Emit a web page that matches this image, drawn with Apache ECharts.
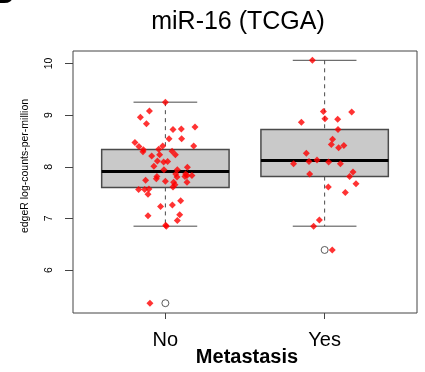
<!DOCTYPE html>
<html>
<head>
<meta charset="utf-8">
<script src="https://cdn.jsdelivr.net/npm/echarts@6/dist/echarts.min.js"></script>
<style>
  html, body { margin: 0; padding: 0; background: #fff; }
  #chart { width: 425px; height: 372px; }
</style>
</head>
<body>
<div id="chart"></div>
<script>
var groups = ['No', 'Yes'];
var yTicks = [6, 7, 8, 9, 10];
// [lower whisker, Q1, median, Q3, upper whisker]
var boxNo = [6.85, 7.60, 7.91, 8.335, 9.25];
var boxYes = [6.85, 7.81, 8.12, 8.72, 10.06];
var outlierNo = [5.36];
var outlierYes = [6.39];

// jittered points (stripchart on top of the boxes)
var noValues = [9.25, 9.08, 8.96, 8.83, 8.72, 8.73, 8.77, 8.54, 8.54, 8.47, 8.39, 8.33, 8.29, 8.40,
  8.34, 8.30, 8.23, 8.40, 8.21, 8.23, 8.11, 8.09, 8.10, 8.01, 7.94, 7.94, 7.99, 7.81, 7.77, 7.86,
  7.80, 7.86, 7.83, 7.83, 7.81, 7.74, 7.72, 7.70, 7.65, 7.61, 7.70, 7.56, 7.56, 7.57, 7.47, 7.23,
  7.26, 7.34, 7.05, 7.07, 6.96, 6.87, 6.85, 5.36];
var noJitter = [0, -0.10, -0.157, -0.119, 0.048, 0.100, 0.186, 0.023, 0.102, -0.191, -0.166, -0.138,
  -0.141, -0.017, -0.042, 0.042, 0.063, 0.178, -0.086, -0.036, -0.050, -0.011, 0.014, -0.072, -0.009,
  0.075, 0.138, -0.053, -0.057, 0.065, 0.073, 0.127, 0.136, 0.167, 0.123, -0.124, 0, 0.052, 0.060,
  0.048, 0.136, -0.168, -0.130, -0.103, -0.109, -0.030, 0.044, 0.096, -0.109, 0.090, 0.075, 0.002,
  0.006, -0.097];
var yesValues = [10.06, 9.07, 9.06, 8.93, 8.92, 8.86, 8.72, 8.53, 8.43, 8.37, 8.41, 8.26, 8.13, 8.10,
  8.06, 8.09, 8.06, 7.90, 7.81, 7.86, 7.67, 7.61, 7.50, 6.97, 6.85, 6.39];
var yesJitter = [-0.077, -0.008, 0.170, 0.002, 0.082, -0.146, 0.084, 0.050, 0.042, 0.088, 0.121,
  -0.115, -0.048, -0.098, -0.195, 0.025, 0.099, 0.178, 0.157, -0.094, 0.197, 0.023, 0.130, -0.033,
  -0.069, 0.048];

var font = 'Liberation Sans, Arial, Helvetica, sans-serif';
var boxColor = '#4a4a4a';

function points(values, jitter, pos) {
  return values.map(function (v, i) { return [pos + jitter[i], v]; });
}

function renderBox(params, api) {
  var x = api.value(0);
  var lo = api.value(1), q1 = api.value(2), med = api.value(3), q3 = api.value(4), hi = api.value(5);
  var tl = api.coord([x - 0.4, q3]);
  var br = api.coord([x + 0.4, q1]);
  var cLo = api.coord([x, lo]), cHi = api.coord([x, hi]);
  var cQ1 = api.coord([x, q1]), cQ3 = api.coord([x, q3]);
  var capL = api.coord([x - 0.2, lo])[0], capR = api.coord([x + 0.2, lo])[0];
  var mL = api.coord([x - 0.4, med]), mR = api.coord([x + 0.4, med]);
  var dash = { stroke: boxColor, lineWidth: 1, lineDash: [4, 4] };
  var solid = { stroke: boxColor, lineWidth: 1 };
  return {
    type: 'group',
    children: [
      { type: 'line', shape: { x1: cHi[0], y1: cHi[1], x2: cQ3[0], y2: cQ3[1] }, style: dash },
      { type: 'line', shape: { x1: cQ1[0], y1: cQ1[1], x2: cLo[0], y2: cLo[1] }, style: dash },
      { type: 'line', shape: { x1: capL, y1: cHi[1], x2: capR, y2: cHi[1] }, style: solid },
      { type: 'line', shape: { x1: capL, y1: cLo[1], x2: capR, y2: cLo[1] }, style: solid },
      { type: 'rect', shape: { x: tl[0], y: tl[1], width: br[0] - tl[0], height: br[1] - tl[1] },
        style: { fill: '#c9c9c9', stroke: boxColor, lineWidth: 1.5 } },
      { type: 'line', shape: { x1: mL[0], y1: mL[1], x2: mR[0], y2: mR[1] },
        style: { stroke: '#000', lineWidth: 3 } }
    ]
  };
}

var chart = echarts.init(document.getElementById('chart'), null, { renderer: 'canvas' });
var option = {
  animation: false,
  textStyle: { fontFamily: font },
  grid: { left: 73, right: 8, top: 51, bottom: 59, show: true, borderColor: '#444', borderWidth: 1 },
  xAxis: {
    type: 'value', min: 0.42, max: 2.58,
    splitLine: { show: false },
    axisLine: { show: false },
    axisTick: { customValues: [1, 2], length: 6, lineStyle: { color: '#444' } },
    axisLabel: {
      customValues: [1, 2], fontSize: 20, color: '#000', margin: 17,
      formatter: function (v) { return groups[Math.round(v) - 1]; }
    }
  },
  yAxis: {
    type: 'value', min: 5.17, max: 10.24,
    splitLine: { show: false },
    axisLine: { show: false },
    axisTick: { customValues: yTicks, length: 8, lineStyle: { color: '#444' } },
    axisLabel: { customValues: yTicks, rotate: 90, fontSize: 10.5, color: '#000', margin: 18 }
  },
  graphic: [
    // panel letter, mostly cut off at the top edge
    { type: 'text', x: -8, y: -20, style: { text: 'B', font: 'bold 30px ' + font, fill: '#000',
      textAlign: 'left', textVerticalAlign: 'top' } },
    { type: 'text', x: 238, y: 22, style: { text: 'miR-16 (TCGA)', font: '25px ' + font, fill: '#000',
      textAlign: 'center', textVerticalAlign: 'middle' } },
    { type: 'text', x: 25, y: 166, rotation: Math.PI / 2, style: { text: 'edgeR log-counts-per-million',
      font: '10.5px ' + font, fill: '#000', textAlign: 'center', textVerticalAlign: 'middle' } },
    { type: 'text', x: 247, y: 357, style: { text: 'Metastasis', font: 'bold 20px ' + font, fill: '#000',
      textAlign: 'center', textVerticalAlign: 'middle' } }
  ],
  series: [
    {
      type: 'custom', renderItem: renderBox, z: 1,
      data: [[1].concat(boxNo), [2].concat(boxYes)]
    },
    {
      type: 'scatter', symbol: 'circle', symbolSize: 7, z: 2,
      itemStyle: { color: '#fff', borderColor: '#333', borderWidth: 1 },
      data: outlierNo.map(function (v) { return [1, v]; }).concat(outlierYes.map(function (v) { return [2, v]; }))
    },
    {
      type: 'scatter', symbol: 'diamond', symbolSize: 7, z: 3,
      itemStyle: { color: '#ff0000' },
      data: points(noValues, noJitter, 1).concat(points(yesValues, yesJitter, 2))
    }
  ]
};
chart.setOption(option);
</script>
</body>
</html>
